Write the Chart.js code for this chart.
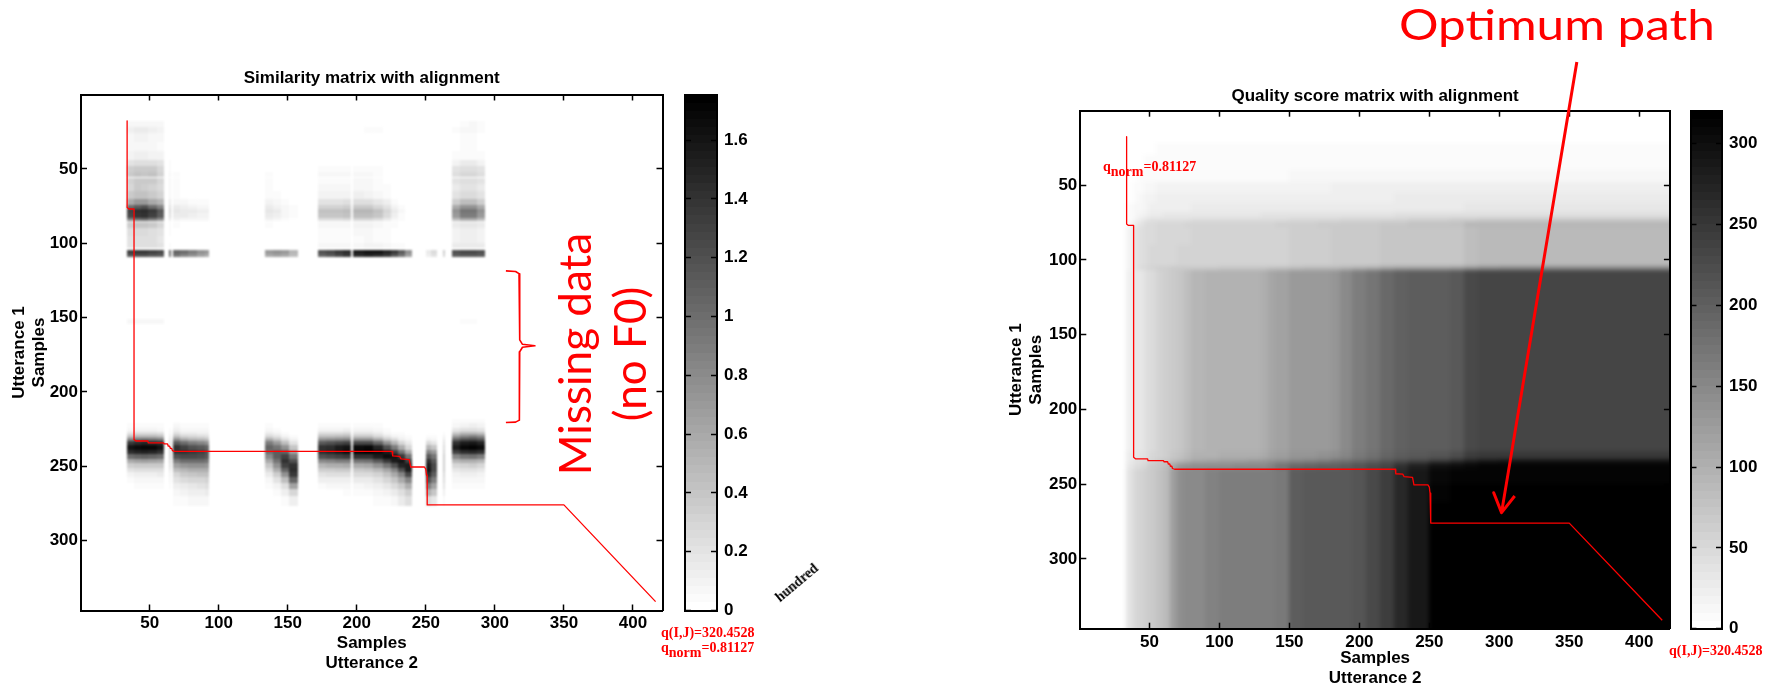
<!DOCTYPE html>
<html>
<head>
<meta charset="utf-8">
<title>Similarity and quality score matrices</title>
<script src="https://cdn.jsdelivr.net/npm/chart.js@4"></script>
<style>
    html, body { margin: 0; padding: 0; background: #fff; width: 1779px; height: 686px; overflow: hidden; }
    canvas { position: absolute; }
    .note { position: absolute; white-space: nowrap; color: #f00; transform-origin: center center; }
    .big { font-family: Lato, sans-serif; font-size: 44px; line-height: 1; }
    .q { font-family: 'Liberation Serif', serif; font-weight: bold; font-size: 14px; line-height: 1; }
    .q sub { font-size: 14px; line-height: 0; vertical-align: -5px; }
</style>
</head>
<body>
<canvas id="simChart" style="left:0;top:0" width="680" height="690"></canvas>
<canvas id="simBar" style="left:670px;top:0" width="120" height="690"></canvas>
<canvas id="qualChart" style="left:900px;top:0" width="790" height="690"></canvas>
<canvas id="qualBar" style="left:1675px;top:0" width="104" height="690"></canvas>

<div class="note big" style="left:1399px;top:2px;font-size:43px;transform-origin:left center;transform:scaleX(1.15)">Optimum path</div>
<div class="note big" style="left:574px;top:354px;transform:translate(-50%,-50%) rotate(-90deg)">Missing data</div>
<div class="note big" style="left:629px;top:354px;transform:translate(-50%,-50%) rotate(-90deg)">(no F0)</div>
<div class="note q" style="left:661px;top:626px">q(I,J)=320.4528</div>
<div class="note q" style="left:661px;top:641px">q<sub>norm</sub>=0.81127</div>
<div class="note q" style="left:1103px;top:160px">q<sub>norm</sub>=0.81127</div>
<div class="note q" style="left:1669px;top:644px">q(I,J)=320.4528</div>
<div class="note" style="left:797px;top:583px;color:#000;font:bold 14px 'Liberation Serif',serif;transform:translate(-50%,-50%) rotate(-40deg)">hundred</div>

<script>
const LABEL_FONT = "'Liberation Sans', sans-serif";

/* ---- data ---- */
const xTickValues = [50, 100, 150, 200, 250, 300, 350, 400];
const yTickValues = [50, 100, 150, 200, 250, 300];
const simBarTicks = [0, 0.2, 0.4, 0.6, 0.8, 1, 1.2, 1.4, 1.6];
const qualBarTicks = [0, 50, 100, 150, 200, 250, 300];
const simMax = 1.755;
const qualMax = 320.45;

// alignment path, same on both matrices
const pathX = [33.7, 33.7, 35, 38.7, 38.7, 40, 48.7, 49, 60, 60.5, 63, 63.5, 64.5, 65, 66, 66.5, 68, 225.7, 226, 231, 232, 238, 239, 249, 250, 250.5, 251, 251, 350, 416.4];
const pathY = [17.7, 76, 77, 77, 232, 233, 233, 234.3, 234.3, 235, 235, 236.5, 236.5, 238, 238, 239.5, 240, 240, 243, 243.3, 245, 245.5, 250.5, 250.5, 252, 256, 256, 276, 276, 341];

// brace next to the gap in the similarity matrix
const braceX = [308, 315, 317.5, 318, 318, 320, 329, 320, 318, 318, 317.5, 315, 308];
const braceY = [118.6, 119, 120.5, 123, 165, 168, 169, 170, 173, 216, 219, 220.3, 220.6];

// arrow pointing at the optimum path
const arrowX = [355.4, 301.6, 296, 301.6, 311];
const arrowY = [-32.2, 269, 255.7, 269, 257.9];

const grayLevels = [255, 251, 247, 243, 239, 235, 231, 227, 223, 219, 215, 211, 206, 202, 198, 194,
    190, 186, 182, 178, 174, 170, 166, 162, 158, 154, 150, 146, 142, 138, 134, 130,
    125, 121, 117, 113, 109, 105, 101, 97, 93, 89, 85, 81, 77, 73, 69, 65,
    61, 57, 53, 49, 45, 40, 36, 32, 28, 24, 20, 16, 12, 8, 4, 0];

// similarity matrix, columns of voiced frames
const simColLeft = [33.5, 39, 44, 49, 55, 64, 66.6, 72, 78, 84, 90, 133.5, 139, 145, 151, 171.7, 178, 184, 190, 197, 205, 212, 219, 225, 230, 235, 249.8, 254, 262.5, 268.8, 275, 281, 287];
const simColRight = [39, 44, 49, 55, 60.5, 65.5, 72, 78, 84, 90, 93.2, 139, 145, 151, 157.4, 178, 184, 190, 195.5, 205, 212, 219, 225, 230, 235, 240, 254, 258.4, 264, 275, 281, 287, 293];

const simUpperTop = [18, 22, 26, 32, 38, 44, 48, 52, 56.3, 60, 65, 70, 74, 77, 80, 83, 86, 90, 95, 100, 104.7, 107, 151];
const simUpperBottom = [22, 26, 32, 38, 44, 48, 52, 55.3, 60, 65, 70, 74, 77, 80, 83, 85.2, 90, 95, 100, 103.5, 107, 109.5, 154];
const simUpperRows = [
    [.08,.08,.08,.08,.06, 0, 0,0,0,0,0, 0,0,0,0, 0,0,0,0, 0,.01,.01,0,0,0,0, 0,0, 0, .02,.05,.06,.03],
    [.13,.14,.14,.13,.1, 0, 0,0,0,0,0, 0,0,0,0, 0,0,0,0, .01,.03,.03,.01,0,0,0, 0,0, 0, .03,.07,.07,.03],
    [.08,.09,.09,.08,.07, 0, 0,0,0,0,0, 0,0,0,0, 0,0,0,0, 0,.01,0,0,0,0,0, 0,0, 0, .02,.05,.05,.02],
    [.06,.06,.06,.06,.05, 0, 0,0,0,0,0, 0,0,0,0, 0,0,0,0, 0,0,0,0,0,0,0, 0,0, 0, .02,.03,.03,.02],
    [.1,.12,.12,.1,.1, .01, 0,0,0,0,0, 0,0,0,0, 0,0,0,0, 0,0,0,0,0,0,0, 0,0, 0, .03,.05,.05,.03],
    [.2,.24,.24,.22,.2, .03, .01,0,0,0,0, 0,0,0,0, .02,.02,.02,.02, .02,.02,.01,0,0,0,0, 0,0, 0, .1,.14,.14,.1],
    [.33,.38,.36,.38,.3, .05, .02,.01,0,0,0, .02,.01,0,0, .05,.05,.05,.05, .05,.05,.04,.02,0,0,0, 0,0, 0, .2,.22,.24,.2],
    [.36,.42,.4,.42,.32, .08, .03,.01,0,0,0, .04,.01,0,0, .06,.06,.06,.06, .07,.07,.05,.02,0,0,0, 0,0, 0, .22,.28,.28,.22],
    [.32,.38,.36,.36,.28, .08, .03,.01,0,0,0, .04,.01,0,0, .05,.05,.05,.05, .06,.06,.05,.02,0,0,0, 0,0, 0, .2,.24,.24,.2],
    [.3,.36,.34,.32,.26, .07, .03,.01,0,0,0, .04,.01,0,0, .06,.06,.06,.06, .07,.07,.05,.03,.01,0,0, 0,0, 0, .16,.2,.2,.16],
    [.36,.42,.42,.38,.32, .08, .03,.02,.01,0,0, .05,.03,.01,0, .09,.09,.1,.1, .11,.1,.08,.05,.02,0,0, 0,0, 0, .2,.25,.25,.2],
    [.6,.7,.7,.6,.5, .15, .08,.06,.05,.03,.03, .1,.07,.04,.02, .2,.2,.2,.22, .24,.22,.18,.12,.05,.02,0, 0,0, 0, .35,.45,.45,.35],
    [1,1.1,1.2,1,.85, .22, .14,.12,.1,.08,.08, .14,.1,.06,.03, .32,.32,.32,.34, .36,.36,.3,.2,.1,.04,0, 0,0, 0, .6,.75,.75,.6],
    [1.3,1.42,1.45,1.35,1.15, .28, .18,.16,.14,.12,.12, .18,.14,.08,.04, .42,.42,.42,.45, .5,.5,.42,.28,.14,.06,.01, 0,0, 0, .75,.95,.95,.75],
    [1.25,1.38,1.4,1.3,1.1, .26, .16,.14,.12,.1,.1, .16,.12,.07,.03, .4,.4,.4,.42, .46,.46,.4,.26,.12,.05,.01, 0,0, 0, .7,.9,.9,.7],
    [.85,.95,1,.9,.75, .16, .1,.08,.07,.06,.06, .1,.07,.04,.02, .24,.24,.24,.26, .28,.28,.24,.16,.08,.03,0, 0,0, 0, .45,.55,.55,.45],
    [.35,.4,.4,.36,.3, .05, .03,.02,.01,.01,.01, .03,.02,.01,0, .08,.08,.08,.08, .1,.1,.08,.05,.03,0,0, 0,0, 0, .14,.18,.18,.14],
    [.22,.26,.26,.24,.2, .03, .01,.01,0,0,0, .01,.01,0,0, .05,.05,.05,.05, .06,.06,.05,.03,.01,0,0, 0,0, 0, .1,.12,.12,.1],
    [.2,.24,.24,.22,.18, .02, .01,0,0,0,0, .01,0,0,0, .05,.05,.05,.05, .05,.06,.05,.03,.01,0,0, 0,0, 0, .1,.12,.12,.1],
    [.2,.24,.24,.22,.2, .03, .01,.01,0,0,0, .01,.01,0,0, .08,.08,.06,.06, .08,.1,.1,.08,.05,.03,.01, 0,0, 0, .14,.14,.14,.14],
    [1.3,1.35,1.35,1.3,1.25, 1.05, 1.05,1,.9,.75,.7, .7,.75,.7,.5, 1.2,1.25,1.35,1.45, 1.55,1.6,1.6,1.5,1.35,1.1,.75, .15,.25, .35, 1.2,1.25,1.25,1.2],
    [1.15,1.2,1.2,1.15,1.1, .95, .95,.85,.75,.65,.55, .6,.65,.6,.45, 1.05,1.15,1.25,1.35, 1.45,1.5,1.45,1.35,1.15,.95,.65, .12,.2, .3, 1.1,1.15,1.15,1.1],
    [.07,.07,.07,.07,.06, .01, 0,0,0,0,0, 0,0,0,0, 0,0,0,0, 0,.02,.01,0,0,0,0, 0,0, 0, .02,.03,.03,.02]
];

const simLowerTop = [218, 221, 224, 227, 229, 231, 233, 236, 239, 242, 245, 248, 251, 254, 257, 261, 265, 270];
const simLowerBottom = [221, 224, 227, 229, 231, 233, 236, 239, 242, 245, 248, 251, 254, 257, 261, 265, 270, 277];
// one list per column, top to bottom
const simLowerCols = [
    [.01,.04,.08,.2,.42,.85,1.35,1.6,1.45,1,.6,.34,.2,.1,.05,.02,.01,0],
    [.02,.05,.1,.25,.5,.95,1.45,1.65,1.5,1.05,.65,.38,.22,.12,.06,.03,.01,0],
    [.02,.05,.1,.25,.5,.98,1.5,1.7,1.52,1.08,.66,.38,.22,.12,.06,.03,.01,0],
    [.02,.05,.1,.25,.5,.95,1.45,1.68,1.5,1.05,.65,.38,.22,.13,.07,.04,.02,0],
    [.01,.04,.08,.22,.45,.9,1.4,1.6,1.42,1,.62,.36,.22,.14,.08,.05,.02,.01],
    [0,.02,.05,.08,.12,.18,.25,.3,.3,.28,.25,.2,.15,.1,.06,.04,.02,.01],
    [.02,.06,.12,.22,.42,.75,1.15,1.4,1.4,1.2,.9,.65,.45,.3,.2,.12,.07,.03],
    [.01,.04,.08,.16,.32,.6,1,1.3,1.4,1.25,1,.72,.52,.38,.25,.16,.1,.05],
    [.01,.03,.07,.14,.28,.52,.9,1.2,1.35,1.25,1,.75,.55,.4,.28,.18,.12,.06],
    [.01,.03,.06,.12,.25,.48,.85,1.15,1.3,1.22,1,.75,.55,.42,.3,.2,.13,.07],
    [.01,.03,.06,.12,.22,.42,.75,1.05,1.2,1.15,.95,.72,.55,.42,.32,.22,.15,.08],
    [0,.03,.08,.15,.3,.55,.9,1.05,1,.8,.6,.4,.25,.15,.08,.04,.02,0],
    [0,.01,.04,.1,.2,.4,.7,.95,1.1,1.1,.95,.75,.55,.35,.2,.1,.05,.02],
    [0,0,.02,.05,.1,.22,.45,.75,1.05,1.3,1.4,1.3,1.05,.75,.45,.22,.12,.05],
    [0,0,.01,.02,.05,.1,.2,.4,.65,.95,1.2,1.4,1.45,1.35,1.05,.65,.3,.12],
    [.02,.05,.1,.25,.45,.75,1.15,1.4,1.45,1.2,.82,.52,.33,.2,.11,.05,.02,0],
    [.02,.05,.1,.25,.45,.78,1.2,1.45,1.5,1.25,.85,.55,.35,.22,.12,.06,.02,0],
    [.02,.05,.1,.26,.48,.8,1.25,1.55,1.58,1.3,.88,.56,.36,.22,.12,.06,.02,0],
    [.02,.05,.12,.28,.5,.85,1.3,1.6,1.65,1.35,.9,.58,.37,.23,.13,.07,.03,0],
    [.02,.05,.1,.2,.4,.75,1.25,1.65,1.72,1.4,.95,.6,.38,.25,.14,.08,.03,.01],
    [.02,.05,.1,.2,.4,.75,1.25,1.7,1.75,1.42,.98,.62,.4,.26,.15,.09,.04,.01],
    [0,.03,.06,.14,.3,.6,1.05,1.5,1.7,1.55,1.15,.75,.48,.32,.2,.12,.07,.03],
    [0,.01,.03,.08,.18,.38,.75,1.2,1.55,1.65,1.35,.95,.62,.42,.28,.17,.1,.05],
    [0,.01,.02,.05,.1,.25,.5,.9,1.3,1.6,1.55,1.2,.85,.58,.4,.25,.15,.08],
    [0,0,.01,.03,.06,.12,.28,.55,.95,1.35,1.6,1.5,1.2,.85,.58,.38,.24,.14],
    [0,0,0,.01,.03,.07,.15,.3,.55,.95,1.3,1.55,1.55,1.25,.85,.55,.35,.22],
    [0,0,0,.02,.05,.1,.25,.5,.85,1.15,1.4,1.55,1.6,1.45,1.2,.9,.55,.25],
    [0,0,0,.01,.03,.07,.18,.4,.7,.95,1.15,1.25,1.25,1.1,.9,.65,.4,.18],
    [0,0,.01,.05,.1,.15,.2,.25,.3,.33,.35,.35,.33,.3,.25,.2,.12,.05],
    [.03,.08,.18,.4,.7,1.05,1.4,1.55,1.3,.85,.5,.3,.18,.1,.06,.03,.01,0],
    [.04,.1,.22,.5,.85,1.2,1.55,1.7,1.45,.95,.55,.32,.2,.12,.07,.04,.02,0],
    [.05,.12,.24,.52,.88,1.22,1.58,1.72,1.47,.97,.57,.33,.2,.12,.07,.04,.02,0],
    [.04,.1,.2,.45,.8,1.15,1.5,1.65,1.4,.9,.52,.3,.18,.1,.06,.03,.01,0]
];

// quality score matrix, last edges run past the axes and get clipped
const qualColEdges = [33.5, 38, 42, 46, 50, 55, 60, 65, 70, 75, 80, 90, 100, 110, 120, 130, 135, 140, 150, 160, 170, 180, 186, 195, 205, 215, 225, 235, 250, 265, 275, 285, 300, 350, 430];
const qualRowEdges = [18, 22, 30, 40, 48, 55, 62, 68, 72, 75, 78, 90, 104, 107, 228, 233, 236, 240, 250, 262, 355];
const qualRows = [
    [0,0,0,0,2,3,3,3,3,3,3,3,3,3,3,3,3,3,3,3,3,3,3,4,4,4,4,4,4,4,4,4,4,4],
    [0,0,1,3,5,6,6,6,6,6,6,6,6,6,6,6,6,6,6,6,6,6,6,6,6,6,7,7,7,7,7,7,7,7],
    [0,2,4,6,7,7,7,7,7,7,7,7,7,7,7,7,7,7,7,7,7,7,7,7,8,8,8,8,8,8,8,8,8,8],
    [1,4,6,8,10,10,10,10,10,10,10,10,10,10,10,10,10,10,11,11,11,11,11,11,12,12,12,12,12,12,12,12,12,12],
    [3,7,10,13,15,18,20,20,20,20,20,20,20,20,20,20,20,20,20,20,20,21,21,21,22,22,22,22,23,23,24,24,24,24],
    [4,9,12,16,20,22,22,22,22,22,22,22,22,22,23,23,23,23,23,23,24,24,24,25,25,25,26,26,27,27,28,28,28,28],
    [6,11,15,18,22,24,25,25,25,25,26,26,26,26,26,26,26,26,27,27,27,27,27,28,28,28,29,29,30,30,32,32,32,32],
    [8,14,20,24,27,30,32,33,33,34,34,35,35,35,35,36,36,36,37,37,38,38,38,39,39,40,41,41,42,43,45,45,45,45],
    [10,20,30,38,42,44,44,44,44,45,46,46,47,48,48,50,50,50,52,52,54,54,56,56,58,60,60,62,64,66,70,72,72,72],
    [13,30,40,46,50,52,54,54,54,56,56,58,58,58,60,60,60,62,64,64,66,68,68,70,70,74,74,76,78,80,92,94,94,94],
    [18,36,42,46,50,52,52,52,54,54,56,56,56,56,57,58,58,60,62,62,63,66,66,68,68,72,72,72,72,74,85,88,88,88],
    [18,36,42,48,52,54,54,55,56,56,57,57,57,57,58,60,60,60,62,63,64,66,66,68,69,72,72,72,73,75,85,88,88,88],
    [20,38,46,52,58,62,64,66,68,68,70,70,71,72,73,75,76,78,84,86,88,90,92,100,105,115,120,120,120,125,135,145,148,148],
    [25,31,34,41,50,56,63,69,75,84,94,97,98,99,100,104,113,119,129,129,129,134,150,163,172,188,200,202,205,207,230,232,232,232],
    [27,33,36,43,52,58,65,72,78,87,97,100,101,102,103,108,117,122,133,135,137,142,155,168,178,192,205,208,215,225,245,250,250,250],
    [30,38,42,50,60,66,72,82,92,102,112,120,122,125,128,132,138,145,152,158,165,172,180,190,198,215,225,235,250,265,280,290,295,295],
    [33,42,48,58,68,75,85,115,135,140,142,142,145,146,147,150,160,175,190,195,197,198,205,212,222,235,260,280,300,305,310,312,312,312],
    [38,53,56,63,69,79,88,125,144,147,150,159,163,163,163,163,165,170,201,207,210,210,210,213,226,245,270,289,310,312,314,314,314,314],
    [38,53,56,63,69,79,88,125,144,147,150,159,163,163,163,163,165,170,201,207,210,210,210,213,226,245,270,289,314,316,317,317,317,317],
    [38,53,56,63,69,79,88,125,144,147,150,159,163,163,163,163,165,170,201,207,210,210,210,213,226,245,270,289,320,320,320,320,320,320]
];

/* ---- turn the lists above into rectangles ---- */
function grayFor(value, max) {
    const idx = Math.min(grayLevels.length - 1, Math.floor(value / max * grayLevels.length));
    const g = grayLevels[idx];
    return `rgb(${g},${g},${g})`;
}

function simCells() {
    const cells = [];
    simUpperRows.forEach((row, r) => row.forEach((v, c) => {
        if (v > 0) cells.push({ x0: simColLeft[c], x1: simColRight[c], y0: simUpperTop[r], y1: simUpperBottom[r], color: grayFor(v, simMax) });
    }));
    simLowerCols.forEach((col, c) => col.forEach((v, r) => {
        if (v > 0) cells.push({ x0: simColLeft[c], x1: simColRight[c], y0: simLowerTop[r], y1: simLowerBottom[r], color: grayFor(v, simMax) });
    }));
    return cells;
}

function qualCells() {
    const cells = [];
    qualRows.forEach((row, r) => row.forEach((v, c) => {
        if (v > 0) cells.push({ x0: qualColEdges[c], x1: qualColEdges[c + 1], y0: qualRowEdges[r], y1: qualRowEdges[r + 1], color: grayFor(v, qualMax) });
    }));
    return cells;
}

function barCells(max) {
    return grayLevels.map((g, i) => ({
        x0: 0, x1: 1,
        y0: i * max / grayLevels.length,
        y1: (i + 1) * max / grayLevels.length,
        color: `rgb(${g},${g},${g})`,
    }));
}

// drawn before the axes so the box and the ticks stay on top.
// the reference is a resampled bitmap, hence the soft edges
function cellPlugin(cells, blurPx) {
    return {
        id: 'cells',
        beforeDraw(chart) {
            const { ctx, scales, chartArea } = chart;
            const layer = document.createElement('canvas');
            layer.width = chart.width;
            layer.height = chart.height;
            const lctx = layer.getContext('2d');
            cells.forEach(cell => {
                const px0 = Math.round(scales.x.getPixelForValue(cell.x0));
                const px1 = Math.round(scales.x.getPixelForValue(cell.x1));
                const py0 = Math.round(scales.y.getPixelForValue(cell.y0));
                const py1 = Math.round(scales.y.getPixelForValue(cell.y1));
                lctx.fillStyle = cell.color;
                lctx.fillRect(Math.min(px0, px1), Math.min(py0, py1), Math.abs(px1 - px0), Math.abs(py1 - py0));
            });
            ctx.save();
            ctx.beginPath();
            ctx.rect(chartArea.left, chartArea.top, chartArea.right - chartArea.left, chartArea.bottom - chartArea.top);
            ctx.clip();
            if (blurPx) ctx.filter = `blur(${blurPx}px)`;
            ctx.drawImage(layer, 0, 0);
            ctx.restore();
        }
    };
}

function zip(xs, ys) {
    return xs.map((x, i) => ({ x: x, y: ys[i] }));
}

function redLine(xs, ys, width) {
    return {
        type: 'scatter',
        data: zip(xs, ys),
        showLine: true,
        borderColor: '#f00',
        backgroundColor: '#f00',
        borderWidth: width,
        borderJoinStyle: 'round',
        pointRadius: 0,
        tension: 0,
        clip: false,
    };
}

/* ---- axes ---- */
const BORDER = { display: true, color: '#000', width: 2 };
const INNER_TICKS = { display: true, drawOnChartArea: false, drawTicks: true, tickLength: -6, tickColor: '#000', tickWidth: 1.5 };

function linearAxis(position, min, max, tickValues, size, opts) {
    return Object.assign({
        type: 'linear',
        position: position,
        min: min,
        max: max,
        border: BORDER,
        grid: INNER_TICKS,
        ticks: { display: false },
        afterBuildTicks(scale) {
            scale.ticks = tickValues.map(v => ({ value: v }));
        },
        afterFit(scale) {
            if (position === 'left' || position === 'right') scale.width = size;
            else scale.height = size;
        },
    }, opts || {});
}

const TICK_LABELS = {
    display: true,
    padding: 9,
    autoSkip: false,
    maxRotation: 0,
    minRotation: 0,
    color: '#000',
    font: { family: LABEL_FONT, size: 17, weight: 'bold' },
};

function matrixChart(id, box, titleText, cells, datasets) {
    const canvas = document.getElementById(id);
    const titleFont = { family: LABEL_FONT, size: 17, weight: 'bold' };
    return new Chart(canvas, {
        type: 'scatter',
        data: { datasets: datasets },
        plugins: [cellPlugin(cells, box.blur)],
        options: {
            responsive: false,
            animation: false,
            events: [],
            layout: { padding: { left: 0, top: 0, right: canvas.width - box.right, bottom: 0 } },
            plugins: {
                legend: { display: false },
                tooltip: { enabled: false },
                title: {
                    display: true,
                    fullSize: false,
                    text: titleText,
                    color: '#000',
                    font: { family: LABEL_FONT, size: 17, weight: 'bold', lineHeight: 1.2 },
                    padding: { top: box.top - box.titleGap - 20.4, bottom: box.titleGap },
                },
            },
            scales: {
                x: linearAxis('bottom', box.xMin, box.xMax, xTickValues, canvas.height - box.bottom, {
                    ticks: Object.assign({}, TICK_LABELS, { callback: v => String(v) }),
                    title: { display: true, text: ['Samples', 'Utterance 2'], color: '#000', font: titleFont, padding: { top: 0, bottom: box.xTitlePad } },
                }),
                xTop: linearAxis('top', box.xMin, box.xMax, xTickValues, 0),
                y: linearAxis('left', box.yMin, box.yMax, yTickValues, box.left, {
                    reverse: true,
                    ticks: Object.assign({}, TICK_LABELS, { callback: v => String(v) }),
                    title: { display: true, text: ['Utterance 1', 'Samples'], color: '#000', font: titleFont, padding: { top: box.yTitlePad, bottom: 0 } },
                }),
                yRight: linearAxis('right', box.yMin, box.yMax, yTickValues, 0, { reverse: true }),
            },
        },
    });
}

function colorbarChart(id, box, max, tickValues) {
    const canvas = document.getElementById(id);
    return new Chart(canvas, {
        type: 'scatter',
        data: { datasets: [] },
        plugins: [cellPlugin(barCells(max), 0)],
        options: {
            responsive: false,
            animation: false,
            events: [],
            layout: { padding: { left: box.left, top: box.top, right: 0, bottom: canvas.height - box.bottom } },
            plugins: { legend: { display: false }, tooltip: { enabled: false } },
            scales: {
                x: linearAxis('bottom', 0, 1, [], 0),
                xTop: linearAxis('top', 0, 1, [], 0),
                y: linearAxis('right', 0, max, tickValues, canvas.width - box.right, {
                    ticks: Object.assign({}, TICK_LABELS, { padding: 13, callback: v => String(v) }),
                }),
                yLeft: linearAxis('left', 0, max, tickValues, 0),
            },
        },
    });
}

/* ---- charts ---- */
matrixChart('simChart',
    { left: 81, top: 94.5, right: 662.5, bottom: 610.5, xMin: 0.3, xMax: 421.4, yMin: 0, yMax: 347, titleGap: 5.7, xTitlePad: 16.5, yTitlePad: 9, blur: 1 },
    'Similarity matrix with alignment', simCells(),
    [redLine(pathX, pathY, 1.3), redLine(braceX, braceY, 1.6)]);

colorbarChart('simBar', { left: 15, top: 94.5, right: 47, bottom: 610.5 }, simMax, simBarTicks);

matrixChart('qualChart',
    { left: 180.3, top: 110.7, right: 769.9, bottom: 628.7, xMin: 0.6, xMax: 421.9, yMin: 0.3, yMax: 346.6, titleGap: 4.6, xTitlePad: 1, yTitlePad: 106, blur: 2 },
    'Quality score matrix with alignment', qualCells(),
    [redLine(pathX, pathY, 1.3), redLine(arrowX, arrowY, 3)]);

colorbarChart('qualBar', { left: 15.5, top: 110.7, right: 47, bottom: 628.7 }, qualMax, qualBarTicks);
</script>
</body>
</html>
